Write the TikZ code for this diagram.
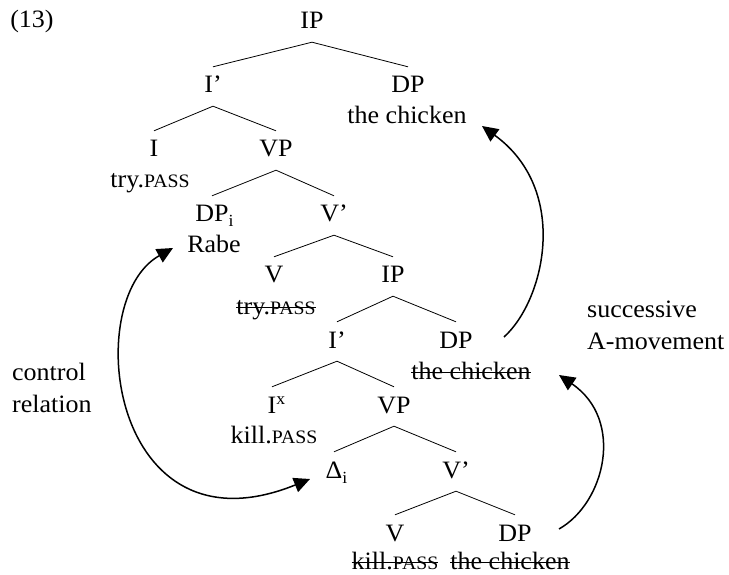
\documentclass[tikz,border=0pt]{standalone}
\usepackage{fontspec}
\setmainfont{Liberation Serif}[FakeStretch=1.04]
\usetikzlibrary{arrows.meta}

% small-caps style gloss for PASS
\newcommand{\pass}{{\fontsize{19}{19}\selectfont PASS}}
% struck-through text (deleted copies)
\newcommand{\strk}[1]{\setbox0=\hbox{#1}\rlap{\rule[6.5pt]{\wd0}{0.9pt}}\box0}
% index and feature marks that do not widen the category label
\newcommand{\subi}{\rlap{\raisebox{-5pt}{\fontsize{17}{17}\selectfont i}}}
\newcommand{\supx}{\rlap{\raisebox{9pt}{\fontsize{17}{17}\selectfont x}}}

\tikzset{
  cat/.style={inner sep=0pt, text height=26pt, text depth=13pt, anchor=base},
  word/.style={inner sep=0pt, anchor=base},
  lbl/.style={inner sep=0pt, anchor=base west},
  branch/.style={line width=0.8pt},
  move/.style={line width=1.5pt, >={Triangle[length=16pt,width=15pt]}}
}

\begin{document}
\begin{tikzpicture}[x=1pt, y=-1pt, font=\fontsize{25}{30}\selectfont]
\useasboundingbox (0,0) rectangle (729,575);

\node[word] (num) at (32,28) {(13)};

% tree nodes
\node[cat] (ip0) at (312,29) {IP};
\node[cat] (ibar1) at (213,93) {I'};
\node[cat] (dp1) at (408,93) {DP};
\node[word] (ch1) at (407,124) {the chicken};
\node[cat] (i2) at (154,157) {I};
\node[cat] (vp2) at (276,157) {VP};
\node[word] (try2) at (150,188) {try.\pass};
\node[cat] (dp3) at (212,222) {DP\subi};
\node[cat] (vbar3) at (334,222) {V'};
\node[word] (rabe3) at (214,253) {Rabe};
\node[cat] (v4) at (274,283) {V};
\node[cat] (ip4) at (393,283) {IP};
\node[word] (try4) at (276,314) {\strk{try.\pass}};
\node[cat] (ibar5) at (337,348) {I'};
\node[cat] (dp5) at (456,348) {DP};
\node[word] (ch5) at (471,379) {\strk{the chicken}};
\node[cat] (i6) at (272,413) {I\supx};
\node[cat] (vp6) at (394,413) {VP};
\node[word] (kill6) at (274,443) {kill.\pass};
\node[cat] (delta7) at (334,478) {Δ\subi};
\node[cat] (vbar7) at (456,478) {V'};
\node[cat] (v8) at (395,541) {V};
\node[cat] (dp8) at (515,541) {DP};
\node[word] (kill8) at (395,569) {\strk{kill.\pass}};
\node[word] (ch8) at (510,569) {\strk{the chicken}};

% side labels
\node[lbl] (ctrl) at (12,380) {control};
\node[lbl] (rel) at (12,412) {relation};
\node[lbl] (succ) at (587,317) {successive};
\node[lbl] (amov) at (587,349) {A-movement};

% branches
\draw[branch] (ibar1.north) -- (ip0.south) -- (dp1.north);
\draw[branch] (i2.north) -- (ibar1.south) -- (vp2.north);
\draw[branch] (dp3.north) -- (vp2.south) -- (vbar3.north);
\draw[branch] (v4.north) -- (vbar3.south) -- (ip4.north);
\draw[branch] (ibar5.north) -- (ip4.south) -- (dp5.north);
\draw[branch] (i6.north) -- (ibar5.south) -- (vp6.north);
\draw[branch] (delta7.north) -- (vp6.south) -- (vbar7.north);
\draw[branch] (v8.north) -- (vbar7.south) -- (dp8.north);

% control relation
\draw[move, <->] ([shift={(-41,-5)}]rabe3.base)
  .. controls (80,300) and (110,560) .. ([shift={(-24,1)}]delta7.base);

% successive A-movement
\draw[move, ->] ([shift={(48,-11)}]dp5.base)
  .. controls (545,300) and (570,190) .. ([shift={(75,2)}]ch1.base);
\draw[move, ->] ([shift={(44,-12)}]dp8.base)
  .. controls (605,503) and (625,420) .. ([shift={(88,-4)}]ch5.base);
\end{tikzpicture}
\end{document}
